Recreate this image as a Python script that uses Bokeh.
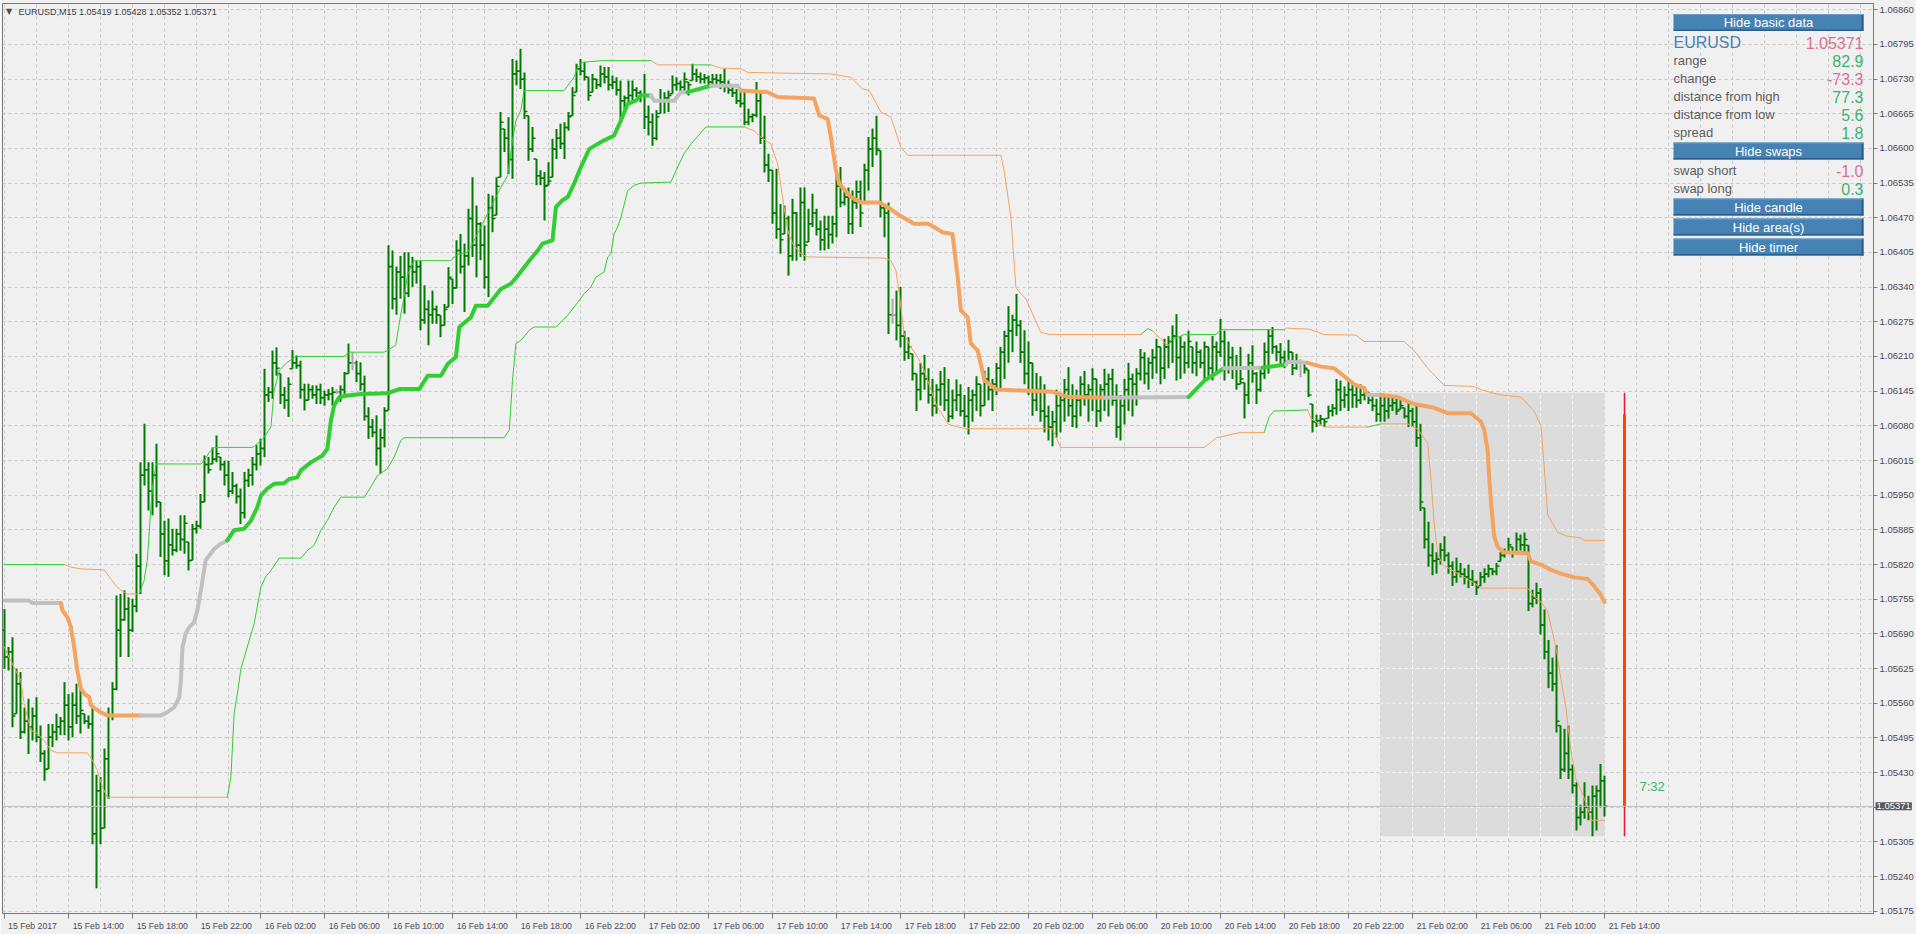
from bokeh.plotting import figure
from bokeh.models import Range1d, FixedTicker, Label, Span, BoxAnnotation, ColumnDataSource
from bokeh.embed import file_html
from bokeh.resources import INLINE

# ---------------- data (prices in points of 0.00001 above 1.05000) ----------------
BASE = 1.05
PT = 0.00001

O = [700,650,660,544,600,510,530,520,540,500,
470,441,500,510,520,530,560,520,560,540,
544,530,525,320,400,330,460,540,590,700,
720,740,700,745,820,990,1000,960,990,940,
880,830,860,850,880,870,865,831,890,895,
940,1010,1011,1020,1024,1010,990,960,970,950,
920,980,990,1010,1030,1040,1140,1145,1200,1180,
1140,1130,1189,1200,1195,1150,1130,1150,1140,1150,
1135,1140,1142,1145,1145,1150,1180,1200,1200,1180,
1160,1100,1080,1070,1040,1060,1111,1380,1320,1370,
1360,1330,1380,1370,1380,1280,1300,1290,1300,1289,
1270,1304,1357,1340,1410,1380,1400,1470,1420,1460,
1420,1360,1490,1476,1547,1637,1620,1580,1740,1745,
1730,1662,1600,1581,1550,1545,1532,1547,1600,1620,
1610,1640,1662,1706,1750,1745,1734,1706,1730,1720,
1740,1735,1720,1725,1710,1690,1695,1700,1710,1705,
1700,1660,1650,1620,1666,1690,1695,1703,1720,1722,
1715,1725,1728,1740,1735,1730,1733,1725,1730,1728,
1725,1715,1710,1705,1690,1685,1650,1660,1663,1690,
1620,1570,1560,1480,1450,1441,1470,1400,1480,1420,
1500,1426,1460,1480,1450,1430,1450,1440,1460,1530,
1500,1510,1460,1500,1520,1500,1560,1600,1620,1597,
1490,1480,1290,1290,1270,1250,1220,1217,1180,1150,
1180,1170,1140,1120,1150,1160,1130,1100,1130,1140,
1110,1100,1130,1140,1160,1120,1170,1150,1160,1190,
1220,1250,1260,1280,1270,1220,1180,1200,1130,1150,
1110,1100,1080,1090,1120,1130,1150,1120,1100,1130,
1160,1140,1150,1170,1110,1150,1160,1170,1130,1080,
1120,1150,1170,1160,1180,1210,1180,1200,1210,1230,
1190,1230,1240,1250,1210,1230,1200,1230,1200,1220,
1200,1230,1190,1230,1220,1240,1190,1210,1190,1160,
1163,1140,1200,1180,1150,1180,1220,1250,1230,1220,
1210,1203,1220,1190,1200,1200,1187,1123,1090,1092,
1095,1096,1110,1115,1150,1130,1140,1150,1140,1130,
1140,1145,1130,1120,1104,1120,1110,1120,1125,1113,
1116,1100,1110,1090,1060,929,870,840,830,833,
850,840,820,800,810,805,800,795,790,783,
800,805,815,810,829,840,845,856,845,870,
860,859,750,760,770,710,660,620,600,522,
440,470,440,410,350,360,370,360,390,400,
419]

H = [740,669,687,628,622,556,572,556,575,522,
476,525,525,544,538,603,581,584,600,600,
544,541,560,430,426,479,556,603,765,768,
775,762,759,843,1014,1086,1014,1014,1049,940,
905,909,890,890,915,915,865,899,905,955,
1027,1024,1042,1064,1024,1017,1017,996,974,965,
996,1002,1024,1046,1058,1189,1155,1223,1229,1180,
1155,1173,1224,1214,1204,1161,1161,1158,1158,1161,
1148,1151,1155,1151,1158,1183,1236,1220,1204,1201,
1176,1117,1095,1102,1077,1117,1420,1410,1380,1400,
1407,1407,1398,1391,1391,1345,1317,1335,1307,1289,
1310,1379,1357,1429,1441,1423,1488,1547,1494,1463,
1457,1516,1513,1547,1669,1637,1659,1768,1765,1787,
1743,1662,1641,1581,1560,1557,1575,1619,1637,1647,
1650,1669,1715,1759,1768,1762,1734,1740,1731,1756,
1753,1753,1737,1734,1728,1700,1728,1728,1715,1709,
1740,1681,1666,1672,1712,1706,1709,1737,1734,1728,
1743,1725,1759,1750,1743,1740,1737,1740,1740,1740,
1750,1728,1718,1712,1709,1709,1675,1666,1725,1706,
1662,1591,1560,1563,1497,1494,1475,1507,1482,1528,
1528,1488,1516,1488,1466,1475,1475,1475,1553,1566,
1522,1528,1522,1541,1541,1572,1622,1638,1662,1597,
1497,1500,1320,1335,1342,1260,1248,1217,1180,1200,
1215,1190,1170,1160,1185,1192,1170,1150,1169,1160,
1140,1155,1150,1175,1160,1185,1192,1170,1200,1230,
1260,1306,1290,1329,1280,1261,1240,1200,1181,1175,
1160,1120,1110,1150,1140,1170,1192,1160,1150,1175,
1185,1160,1190,1170,1160,1189,1180,1189,1160,1140,
1170,1200,1180,1190,1226,1220,1210,1226,1245,1230,
1245,1250,1270,1291,1250,1240,1260,1230,1240,1225,
1240,1230,1250,1240,1282,1260,1240,1230,1215,1230,
1163,1217,1233,1183,1190,1238,1263,1267,1233,1237,
1223,1243,1220,1217,1207,1200,1187,1123,1103,1103,
1096,1120,1123,1170,1167,1156,1170,1163,1156,1160,
1156,1146,1136,1133,1144,1140,1136,1136,1133,1136,
1116,1126,1116,1120,1086,929,903,863,846,863,
876,846,829,836,826,816,823,813,793,809,
816,823,816,826,846,853,873,856,883,879,
883,859,776,789,779,739,682,649,672,522,
516,522,449,416,374,416,391,410,410,450,
428]

L = [628,625,519,544,497,507,469,494,491,454,
419,441,482,494,504,504,494,500,525,507,
525,516,300,218,300,330,385,532,588,650,
718,650,697,734,768,971,924,915,930,837,
803,800,840,846,849,843,812,831,881,890,
940,993,1011,1014,999,971,949,955,937,899,
909,968,971,999,1008,1024,1127,1133,1176,1123,
1114,1099,1189,1189,1133,1111,1130,1133,1123,1123,
1120,1130,1120,1142,1127,1142,1180,1186,1164,1148,
1092,1058,1061,1008,993,1042,1111,1300,1290,1320,
1292,1323,1342,1348,1261,1273,1233,1273,1273,1248,
1270,1304,1310,1339,1367,1295,1382,1398,1360,1392,
1339,1323,1444,1476,1547,1594,1553,1544,1719,1712,
1656,1578,1594,1532,1532,1466,1532,1547,1581,1600,
1581,1634,1662,1706,1737,1728,1690,1706,1712,1715,
1722,1709,1712,1700,1650,1666,1684,1687,1697,1687,
1637,1625,1606,1616,1666,1666,1669,1703,1709,1706,
1706,1700,1728,1725,1722,1722,1719,1715,1719,1712,
1706,1703,1697,1684,1678,1644,1644,1650,1659,1609,
1556,1538,1460,1432,1404,1441,1363,1391,1391,1398,
1391,1426,1454,1438,1410,1410,1413,1423,1435,1491,
1494,1441,1441,1488,1454,1500,1522,1566,1588,1472,
1435,1254,1273,1242,1229,1204,1207,1167,1110,1130,
1150,1124,1100,1105,1120,1110,1089,1095,1110,1100,
1080,1066,1090,1110,1100,1120,1130,1110,1140,1150,
1170,1200,1220,1250,1200,1160,1140,1101,1110,1090,
1070,1055,1044,1060,1070,1090,1100,1080,1078,1100,
1120,1090,1110,1080,1090,1110,1100,1120,1060,1055,
1085,1110,1100,1120,1167,1160,1150,1170,1180,1160,
1170,1190,1200,1167,1170,1180,1190,1180,1175,1190,
1167,1175,1167,1180,1211,1167,1180,1170,1150,1160,
1096,1123,1163,1123,1146,1170,1180,1217,1203,1197,
1190,1203,1177,1187,1173,1180,1136,1070,1080,1083,
1080,1096,1100,1103,1110,1116,1110,1116,1116,1123,
1130,1123,1110,1090,1090,1090,1096,1110,1103,1113,
1096,1080,1080,1043,923,853,819,803,806,823,
829,806,783,789,799,786,779,783,766,783,
789,799,803,803,829,836,843,836,843,849,
846,736,743,749,692,646,592,586,509,422,
435,422,395,326,335,348,345,315,326,369,
352]

C = [650,660,540,600,510,530,520,540,500,470,
440,500,510,520,530,560,520,560,540,550,
530,525,320,400,330,460,540,590,700,720,
740,700,745,820,990,1000,960,990,940,880,
830,860,850,880,870,900,830,890,895,940,
1010,1000,1020,1030,1010,990,960,970,950,920,
980,990,1010,1030,1040,1140,1145,1200,1190,1140,
1130,1160,1200,1195,1150,1130,1150,1140,1150,1135,
1140,1142,1145,1145,1150,1180,1200,1200,1180,1160,
1100,1080,1070,1040,1060,1110,1380,1320,1370,1360,
1330,1380,1370,1380,1280,1300,1290,1300,1290,1270,
1300,1360,1340,1410,1380,1400,1470,1420,1460,1420,
1360,1490,1470,1530,1650,1620,1580,1740,1745,1730,
1670,1600,1620,1550,1545,1530,1540,1600,1620,1610,
1640,1660,1700,1750,1745,1735,1700,1730,1720,1740,
1735,1720,1725,1710,1690,1695,1700,1710,1705,1700,
1660,1650,1620,1660,1690,1695,1700,1720,1722,1715,
1730,1720,1740,1735,1730,1733,1725,1730,1728,1725,
1715,1710,1705,1690,1685,1650,1660,1663,1690,1620,
1570,1560,1480,1450,1430,1470,1400,1480,1420,1500,
1420,1460,1480,1450,1430,1450,1440,1460,1530,1500,
1510,1460,1500,1520,1480,1560,1600,1620,1600,1490,
1480,1290,1290,1270,1250,1220,1230,1180,1150,1180,
1170,1140,1120,1150,1160,1130,1100,1130,1140,1110,
1100,1130,1140,1160,1120,1170,1150,1160,1190,1220,
1250,1260,1280,1270,1220,1180,1200,1130,1150,1110,
1100,1080,1090,1120,1130,1150,1120,1100,1130,1160,
1140,1150,1170,1110,1150,1160,1170,1130,1080,1120,
1150,1170,1160,1180,1210,1180,1200,1210,1230,1190,
1230,1240,1250,1210,1230,1200,1240,1200,1220,1200,
1230,1190,1230,1220,1240,1190,1210,1190,1160,1170,
1140,1200,1180,1150,1180,1220,1250,1230,1220,1210,
1200,1220,1190,1200,1200,1190,1140,1090,1092,1095,
1090,1110,1115,1150,1130,1140,1150,1140,1130,1140,
1145,1130,1120,1104,1120,1110,1120,1125,1110,1120,
1100,1110,1090,1060,940,870,840,830,833,850,
840,820,800,810,805,800,795,790,780,800,
805,815,810,820,840,845,860,845,870,860,
870,750,760,770,710,660,620,600,530,440,
470,440,410,350,360,370,360,390,400,419,
371]

# indicator lines, split into runs of one colour state:
# (state, bar positions, points above 1.05000); g = up, o = down, s = flat
MID_RUNS = [
    ("s", [0, 6, 7, 14.1], [756, 756, 751, 751]),
    ("o", [14.1, 14.5, 15.7, 16.6, 17.4, 18.2, 19.1, 20, 21.2, 21.6, 22.8, 24.1, 25.7, 34.1],
          [751, 737, 725, 706, 669, 625, 591, 581, 575, 560, 553, 547, 541, 541]),
    ("s", [34.1, 39.1, 40.7, 42.4, 43.7, 44.1, 44.5, 45.3, 46.2, 47.4, 48.2, 49.1, 50.3, 51.2, 52.4, 54.1, 55.7],
          [541, 541, 547, 556, 575, 606, 669, 694, 706, 715, 737, 775, 831, 840, 852, 862, 868]),
    ("g", [55.7, 57.4, 59.9, 61.6, 63.2, 64.1, 65.7, 67.4, 69.9, 71.2, 73.2, 74.1, 76.6, 79.5, 80.7, 81.6, 82.4,
           83.7, 85.7, 89.1, 95.7, 98.7, 103.7, 105.8, 109.1, 110.8, 112.85, 113.7, 116.6, 117.85, 120.8, 124.1,
           126.6, 128.3, 131.2, 133.3, 134.5, 137, 137.85, 139.5, 140.8, 142.4, 144.1, 146.2, 148.3, 149.9, 152.4,
           154.1, 155.8, 157.85, 159.1, 161.6],
          [868, 887, 890, 905, 930, 952, 965, 974, 975, 983, 986, 999, 1014, 1027, 1039, 1092, 1120,
           1136, 1139, 1142, 1143, 1151, 1151, 1176, 1176, 1198, 1211, 1267, 1285, 1307, 1307, 1338,
           1348, 1363, 1391, 1410, 1423, 1429, 1491, 1504, 1510, 1535, 1566, 1600, 1609, 1616, 1625,
           1653, 1684, 1690, 1700, 1700]),
    ("s", [161.6, 162.4, 167.4, 169.1, 170.8], [1700, 1690, 1690, 1706, 1706]),
    ("g", [170.8, 176.6], [1706, 1718]),
    ("s", [176.6, 183.3, 184.1], [1718, 1718, 1709]),
    ("o", [184.1, 190.8, 193.3, 202.4, 203.7, 205.8, 206.6, 207.85, 208.7, 211.6, 214.1, 218.7, 220.8, 223.3,
           227.4, 230.8, 232.4, 234.5, 237, 237.4, 238.3, 239.1, 240.8, 241.6, 243.3, 245, 248, 262, 266, 275],
          [1709, 1706, 1697, 1694, 1662, 1656, 1622, 1560, 1535, 1510, 1500, 1500, 1491, 1478,
           1460, 1460, 1454, 1444, 1441, 1416, 1360, 1298, 1285, 1236, 1223, 1167, 1150, 1146, 1136, 1135]),
    ("s", [275, 296], [1135, 1136]),
    ("g", [296, 300, 304.9], [1136, 1167, 1190]),
    ("s", [304.9, 314.5], [1190, 1191]),
    ("g", [314.5, 320.35], [1191, 1197]),
    ("s", [320.35, 320.8, 325.8], [1197, 1202, 1200]),
    ("o", [325.8, 329.1, 332.4, 334.1, 337.4, 339.9, 340.8], [1200, 1193, 1190, 1180, 1160, 1153, 1140]),
    ("s", [340.8, 344.1], [1140, 1140]),
    ("o", [344.1, 348.3, 352.4, 357.4, 360.8, 366.6, 369.1, 369.9, 370.8, 371.2, 371.6, 372.4, 373.3, 374.9,
           380.8, 381.6, 384.1, 386.6, 389.1, 392.4, 395.8, 397.4, 399.1, 400],
          [1140, 1136, 1123, 1116, 1106, 1106, 1090, 1076, 1036, 983, 943, 876, 856, 846,
           844, 829, 823, 813, 806, 799, 796, 783, 766, 753]),
]

UP_RUNS = [
    ("g", [0, 14.9], [823, 823]),
    ("o", [14.9, 16.6, 19.1, 24.9, 26.6, 27.8, 29.1, 30.7, 33.7], [823, 818, 815, 813, 796, 784, 775, 768, 768]),
    ("g", [33.7, 34.9, 35.7, 36.6, 37, 37.9, 49.1, 49.9, 51.2, 52.4, 62, 62.8, 64.1, 64.9, 66.6, 67.4, 68.7,
           70.7, 72.8, 84.9, 86.2, 94.9, 95.7, 97.8, 99.1, 99.9, 100.8, 102.4, 111.6, 112.85, 115.8, 117, 119.1,
           120.8, 122.85, 124.1, 125.8, 127, 127.85, 129.1, 129.9, 139.9, 140.8, 142.4, 143.3, 144.5, 149.5, 161.6],
          [768, 793, 831, 930, 968, 1011, 1011, 1017, 1033, 1042, 1042, 1046, 1055, 1061, 1080, 1148, 1186,
           1201, 1212, 1212, 1220, 1220, 1223, 1233, 1292, 1323, 1366, 1391, 1391, 1401, 1407, 1423, 1454,
           1479, 1510, 1528, 1550, 1616, 1653, 1672, 1709, 1709, 1718, 1734, 1753, 1762, 1765, 1765]),
    ("o", [161.6, 163.3, 171.6], [1765, 1757, 1757]),
    ("g", [171.6, 176.6], [1757, 1757]),
    ("o", [176.6, 179.1, 184.1, 185.8, 206.6, 211.6, 214.5, 216.2, 219.1, 221.6, 224.1, 225.8, 249.1, 249.9,
           251.6, 252.85, 254.1, 255.35, 257.4, 259.1, 261.2, 284.1],
          [1757, 1751, 1750, 1743, 1740, 1734, 1712, 1709, 1669, 1659, 1603, 1588, 1588, 1560,
           1472, 1341, 1329, 1320, 1285, 1257, 1253, 1253]),
    ("g", [284.1, 285.8, 287], [1253, 1264, 1260]),
    ("o", [287, 290.8, 291.2], [1260, 1232, 1235]),
    ("g", [291.2, 291.6, 294.9, 302.85, 304.1, 319.9], [1235, 1242, 1253, 1253, 1262, 1262]),
    ("o", [319.9, 320.5, 326.2, 329.9, 337.85, 339.9, 349.9, 352.4, 355.8, 359.9, 367.4, 369.1, 372.4, 374.1,
           379.1, 382.4, 384.1, 384.9, 385.8, 388.3, 390.8, 394.1, 394.9, 400],
          [1262, 1265, 1263, 1253, 1252, 1240, 1240, 1223, 1190, 1158, 1156, 1150, 1143, 1140,
           1136, 1110, 1083, 1010, 916, 883, 876, 873, 868, 868]),
]

LO_RUNS = [
    ("o", [0, 0.7, 2.4, 4.1, 4.9, 6.6, 8.2, 9.9, 11.6, 13.2, 20.7, 22, 23.2, 24.5, 25.7, 55.7],
          [669, 656, 631, 606, 563, 513, 507, 494, 476, 471, 471, 457, 438, 407, 388, 388]),
    ("g", [55.7, 56.6, 57.4, 58.2, 59.1, 60.7, 62.4, 64.1, 65.3, 66.6, 68.7, 74.1, 75.7, 77.4, 79.1, 80.7, 82.4,
           84.1, 90, 91.6, 93.2, 95.7, 97.4, 99.1, 99.9, 124.9, 126.2, 127, 127.85, 129.1, 131.2, 132.4, 137.85,
           139.1, 140.8, 143.3, 144.9, 146.6, 147.85, 149.9, 150.8, 151.6, 152.4, 153.3, 154.1, 155.8, 157.4,
           159.1, 166.6, 168.3, 169.9, 171.6, 175.35, 184.9],
          [388, 426, 544, 581, 628, 669, 712, 781, 800, 812, 835, 835, 849, 859, 887, 905, 930,
           949, 949, 968, 989, 1002, 1024, 1055, 1060, 1060, 1074, 1167, 1236, 1242, 1261, 1267, 1267,
           1276, 1289, 1313, 1329, 1342, 1360, 1370, 1398, 1404, 1441, 1454, 1472, 1522, 1532,
           1536, 1538, 1566, 1591, 1609, 1641, 1641]),
    ("o", [184.9, 187.4, 189.1, 191.6, 193.3, 194.5, 195.8, 197, 199.1, 200.8, 219.9, 221.6, 222.85, 223.7,
           224.9, 226.6, 228.3, 229.9, 230.8, 233, 236, 240, 262, 264, 300, 303, 309, 314.9],
          [1641, 1634, 1622, 1609, 1572, 1510, 1448, 1423, 1404, 1398, 1396, 1391, 1373, 1329,
           1254, 1229, 1211, 1186, 1167, 1120, 1085, 1077, 1077, 1042, 1042, 1060, 1070, 1070]),
    ("g", [314.9, 316.2, 317.4, 325.8], [1070, 1100, 1110, 1112]),
    ("o", [325.8, 326.6, 329.9, 340.8], [1112, 1096, 1080, 1080]),
    ("g", [340.8, 344.1], [1080, 1086]),
    ("o", [344.1, 350.8, 353.3, 355.8, 356.6, 357.4, 358.3, 359.5, 363.3, 367.4, 369.1, 380.8, 382.4, 384.1,
           385.8, 386.6, 387.85, 389.1, 390.35, 391.6, 392.85, 394.1, 395.8, 396.2, 396.8, 400],
          [1086, 1086, 1076, 1050, 983, 903, 843, 823, 806, 789, 779, 779, 763, 753,
           736, 709, 669, 609, 556, 475, 422, 402, 369, 357, 345, 345]),
]

X_LABELS = ["15 Feb 2017", "15 Feb 14:00", "15 Feb 18:00", "15 Feb 22:00", "16 Feb 02:00",
            "16 Feb 06:00", "16 Feb 10:00", "16 Feb 14:00", "16 Feb 18:00", "16 Feb 22:00",
            "17 Feb 02:00", "17 Feb 06:00", "17 Feb 10:00", "17 Feb 14:00", "17 Feb 18:00",
            "17 Feb 22:00", "20 Feb 02:00", "20 Feb 06:00", "20 Feb 10:00", "20 Feb 14:00",
            "20 Feb 18:00", "20 Feb 22:00", "21 Feb 02:00", "21 Feb 06:00", "21 Feb 10:00",
            "21 Feb 14:00"]
Y_LABELS = ["1.06860", "1.06795", "1.06730", "1.06665", "1.06600", "1.06535", "1.06470",
            "1.06405", "1.06340", "1.06275", "1.06210", "1.06145", "1.06080", "1.06015",
            "1.05950", "1.05885", "1.05820", "1.05755", "1.05690", "1.05625", "1.05560",
            "1.05495", "1.05430", "", "1.05305", "1.05240", "1.05175"]
Y_TICK_TOP, Y_TICK_BOTTOM = 1.06860, 1.05175

TITLE = "EURUSD,M15  1.05419 1.05428 1.05352 1.05371"
SYMBOL = "EURUSD"
BID = 1.05371
DAY_OPEN, DAY_HIGH, DAY_LOW = 1.06104, 1.06144, 1.05315
DAY_FIRST_BAR, CANDLE_BAR = 344, 405
INFO_ROWS = [("range", "82.9", "pos"), ("change", "-73.3", "neg"), ("distance from high", "77.3", "pos"),
             ("distance from low", "5.6", "pos"), ("spread", "1.8", "pos")]
SWAP_ROWS = [("swap short", "-1.0", "neg"), ("swap long", "0.3", "pos")]
TIMER = "7:32"

# ---------------- layout ----------------
FL, FR, FB = 2, 43, 21
FW, FH = 1871, 910
FT = 3                      # frame top on the page
PX_BAR = 4.0
X0 = -0.5
X1 = X0 + FW / PX_BAR
PPU = (910.7 - 9.3) / (Y_TICK_TOP - Y_TICK_BOTTOM)
Y1 = Y_TICK_TOP + (9.3 - FT) / PPU
Y0 = Y1 - FH / PPU
TOP_SHIFT = -5              # canvas offset that puts the frame top at FT


def px_x(px):
    return X0 + (px - FL) / PX_BAR


def px_y(py):
    return Y1 - (py - FT) / PPU


def price(v):
    return BASE + v * PT


BG = "#F0F0F0"
BAR_COL = "#007A00"
DOJI_COL = "#A8A8A8"
COLS = {"g": "#32CD32", "o": "#F4A460", "s": "#C0C0C0"}
FONT = "Liberation Sans"

p = figure(frame_width=FW, frame_height=FH, x_range=Range1d(X0, X1), y_range=Range1d(Y0, Y1),
           output_backend="svg", toolbar_location=None, y_axis_location="right",
           min_border_left=FL, min_border_right=FR, min_border_top=0, min_border_bottom=FB,
           background_fill_color=BG, border_fill_color=BG, outline_line_color="#7A7A7A",
           margin=(TOP_SHIFT, 0, 0, 0))

y_ticks = [Y_TICK_TOP - k * (Y_TICK_TOP - Y_TICK_BOTTOM) / (len(Y_LABELS) - 1) for k in range(len(Y_LABELS))]
x_ticks = [16 * k for k in range(len(X_LABELS))]
# labels are written to the right of their tick, as in the terminal
x_label_pos = [t + (7.0 if k == 0 else 7.45) for k, t in enumerate(x_ticks)]

p.yaxis.ticker = FixedTicker(ticks=y_ticks)
p.yaxis.major_label_overrides = {t: s for t, s in zip(y_ticks, Y_LABELS)}
p.xaxis.ticker = FixedTicker(ticks=x_label_pos, minor_ticks=x_ticks)
p.xaxis.major_label_overrides = {t: s for t, s in zip(x_label_pos, X_LABELS)}
for ax in (p.xaxis[0], p.yaxis[0]):
    ax.major_label_text_font = FONT
    ax.major_label_text_color = "#4A4A55"
    ax.axis_line_color = "#7A7A7A"
    ax.major_tick_in = 0
p.xaxis.major_label_text_font_size = "8.7px"
p.yaxis.major_label_text_font_size = "9.5px"
p.yaxis.major_tick_line_color = "#7A7A7A"
p.yaxis.minor_tick_line_color = None
p.yaxis.major_tick_out = 4
p.yaxis.major_label_standoff = 2
p.xaxis.major_tick_line_color = None
p.xaxis.major_tick_out = 5
p.xaxis.minor_tick_line_color = "#7A7A7A"
p.xaxis.minor_tick_out = 5
p.xaxis.minor_tick_in = 0
p.xaxis.major_label_standoff = 2

p.xgrid.ticker = FixedTicker(ticks=[8 * k for k in range(59)])
p.ygrid.ticker = FixedTicker(ticks=y_ticks)
for g in (p.xgrid[0], p.ygrid[0]):
    g.grid_line_color = "#C8C8C8"
    g.grid_line_dash = "3 3"
    g.grid_line_width = 1

# daily area
p.quad(left=DAY_FIRST_BAR, right=len(C) - 1, bottom=DAY_LOW, top=DAY_HIGH,
       fill_color="#DCDCDC", line_color=None)
vx = [x for x in range(0, 470, 8) if DAY_FIRST_BAR < x < len(C) - 1]
p.segment(x0=vx, x1=vx, y0=[DAY_LOW] * len(vx), y1=[DAY_HIGH] * len(vx),
          line_color="#F8F8F8", line_dash="3 3", line_width=1)
hy = [y for y in y_ticks if DAY_LOW < y < DAY_HIGH]
p.segment(x0=[DAY_FIRST_BAR] * len(hy), x1=[len(C) - 1] * len(hy), y0=hy, y1=hy,
          line_color="#F8F8F8", line_dash="3 3", line_width=1)

# bid line
p.add_layout(Span(location=BID, dimension="width", line_color="#C0C0C0", line_width=1))

# bars
idx = list(range(len(C)))
src = ColumnDataSource(dict(
    x=idx, xl=[i - 0.75 for i in idx], xr=[i + 0.75 for i in idx],
    o=[price(v) for v in O], h=[price(v) for v in H], l=[price(v) for v in L], c=[price(v) for v in C],
    col=[DOJI_COL if a == b else BAR_COL for a, b in zip(O, C)]))
p.segment(x0="x", y0="l", x1="x", y1="h", line_color="col", line_width=2, source=src)
p.segment(x0="xl", y0="o", x1="x", y1="o", line_color="col", line_width=1.5, source=src)
p.segment(x0="x", y0="c", x1="xr", y1="c", line_color="col", line_width=1.5, source=src)


def draw_runs(runs, width):
    for state, xs, ys in runs:
        p.line(xs, [price(v) for v in ys], line_color=COLS[state], line_width=width,
               line_join="round", line_cap="round")


draw_runs(UP_RUNS, 1)
draw_runs(LO_RUNS, 1)
draw_runs(MID_RUNS, 4)

# current day candle
p.segment(x0=[CANDLE_BAR], x1=[CANDLE_BAR], y0=[DAY_LOW], y1=[DAY_HIGH], line_color="#E0163C", line_width=1.5)
p.segment(x0=[CANDLE_BAR], x1=[CANDLE_BAR], y0=[BID], y1=[DAY_OPEN], line_color="#FF4500", line_width=3)

# timer
p.add_layout(Label(x=px_x(1639), y=px_y(786), text=TIMER, text_font=FONT, text_font_size="13px",
                   text_color="#3CB371", text_align="left", text_baseline="middle"))

# title
p.add_layout(Label(x=px_x(5.5), y=px_y(10.5), text="\u25BC", text_font="DejaVu Sans", text_font_size="8px",
                   text_color="#505050", text_align="left", text_baseline="middle"))
p.add_layout(Label(x=px_x(18), y=px_y(11), text=TITLE, text_font=FONT, text_font_size="9px",
                   text_color="#3C3C46", text_align="left", text_baseline="middle"))

# current price tag on the price scale (kept in a side panel so it is not clipped to the frame)
p.add_layout(Label(x=px_x(1875), y=BID, text="%.5f" % BID, text_font=FONT, text_font_size="9.5px",
                   text_color="white", text_align="left", text_baseline="middle",
                   background_fill_color="#5A5A5A", padding=1), "above")

# panel
BL, BR = 1673, 1863


def button(top, text):
    p.add_layout(BoxAnnotation(left=px_x(BL), right=px_x(BR), top=px_y(top), bottom=px_y(top + 17),
                               fill_color="#4682B4", fill_alpha=1, line_color=None))
    p.add_layout(BoxAnnotation(left=px_x(BL), right=px_x(BR), top=px_y(top + 15.5), bottom=px_y(top + 17),
                               fill_color="#2C5E8C", fill_alpha=1, line_color=None))
    p.add_layout(BoxAnnotation(left=px_x(BR - 2), right=px_x(BR), top=px_y(top), bottom=px_y(top + 17),
                               fill_color="#2C5E8C", fill_alpha=1, line_color=None))
    p.add_layout(BoxAnnotation(left=px_x(BL), right=px_x(BR), top=px_y(top), bottom=px_y(top + 1),
                               fill_color="#6A9FCC", fill_alpha=1, line_color=None))
    p.add_layout(Label(x=px_x((BL + BR) / 2), y=px_y(top + 8.5), text=text, text_font=FONT,
                       text_font_size="13px", text_color="white", text_align="center",
                       text_baseline="middle"))


def row(yc, name, val, kind):
    p.add_layout(Label(x=px_x(BL), y=px_y(yc), text=name, text_font=FONT, text_font_size="13px",
                       text_color="#5E5E5E", text_align="left", text_baseline="middle"))
    p.add_layout(Label(x=px_x(BR), y=px_y(yc), text=val, text_font=FONT, text_font_size="16px",
                       text_color="#3CB371" if kind == "pos" else "#DB7093",
                       text_align="right", text_baseline="middle"))


button(13.5, "Hide basic data")
p.add_layout(Label(x=px_x(BL), y=px_y(42), text=SYMBOL, text_font=FONT, text_font_size="16px",
                   text_color="#4682B4", text_align="left", text_baseline="middle"))
p.add_layout(Label(x=px_x(BR), y=px_y(42), text="%.5f" % BID, text_font=FONT, text_font_size="16px",
                   text_color="#DB7093", text_align="right", text_baseline="middle"))
for k, (n, v, kd) in enumerate(INFO_ROWS):
    row(60 + 18 * k, n, v, kd)
button(142, "Hide swaps")
for k, (n, v, kd) in enumerate(SWAP_ROWS):
    row(170 + 18 * k, n, v, kd)
button(198, "Hide candle")
button(218, "Hide area(s)")
button(238, "Hide timer")

open("out.html", "w").write(file_html(p, INLINE))
